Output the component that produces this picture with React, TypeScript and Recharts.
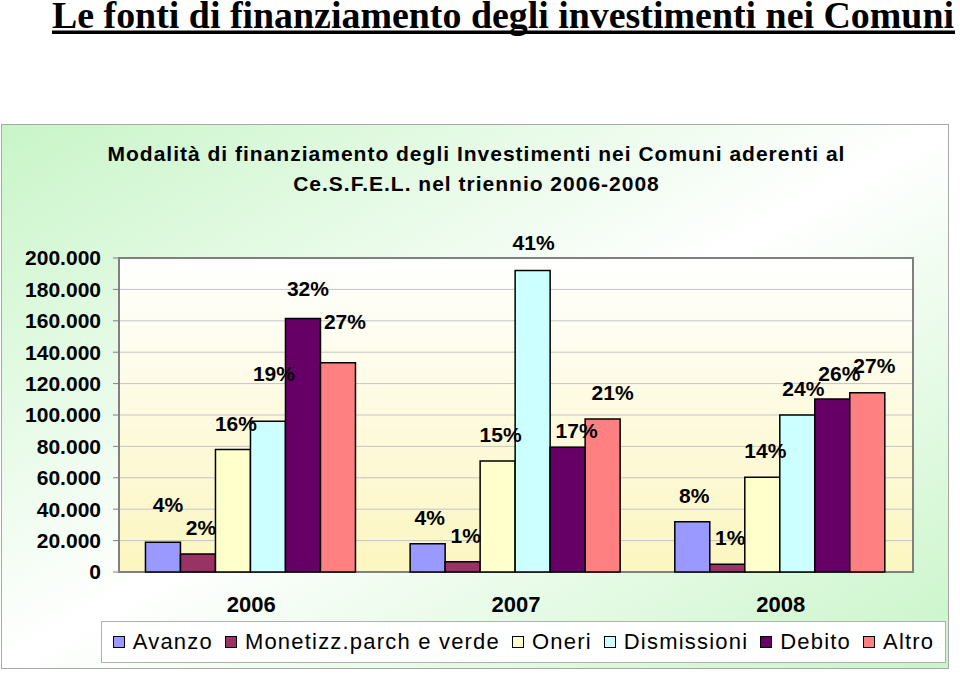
import React from "react";
import {
  BarChart,
  Bar,
  XAxis,
  YAxis,
  CartesianGrid,
  LabelList,
  ReferenceArea,
} from "recharts";

const years = ["2006", "2007", "2008"];
const avanzo = [19000, 18000, 32000];
const monetizz = [11500, 6600, 4900];
const oneri = [78000, 70700, 60300];
const dismissioni = [96000, 192000, 100000];
const debito = [161500, 79400, 110200];
const altro = [133300, 97500, 114200];

const avanzoPct = ["4%", "4%", "8%"];
const monetizzPct = ["2%", "1%", "1%"];
const oneriPct = ["16%", "15%", "14%"];
const dismissioniPct = ["19%", "41%", "24%"];
const debitoPct = ["32%", "17%", "26%"];
const altroPct = ["27%", "21%", "27%"];

const yTicks = [0, 20000, 40000, 60000, 80000, 100000, 120000, 140000, 160000, 180000, 200000];

const series = [
  { key: "avanzo", name: "Avanzo", color: "#9999FF", values: avanzo, pct: avanzoPct },
  { key: "monetizz", name: "Monetizz.parch e verde", color: "#993366", values: monetizz, pct: monetizzPct },
  { key: "oneri", name: "Oneri", color: "#FFFFCC", values: oneri, pct: oneriPct },
  { key: "dismissioni", name: "Dismissioni", color: "#CCFFFF", values: dismissioni, pct: dismissioniPct },
  { key: "debito", name: "Debito", color: "#660066", values: debito, pct: debitoPct },
  { key: "altro", name: "Altro", color: "#FF8080", values: altro, pct: altroPct },
];

// label nudges (dx, lift above bar top) where the original labels were moved by hand
const labelNudge: Record<string, [number, number][]> = {
  avanzo: [[5, 30], [2, 19], [2, 19]],
  dismissioni: [[6, 40], [1, 21], [6, 19]],
  debito: [[5, 22], [9, 9], [7, 18]],
  altro: [[7, 34], [10, 19], [7, 20]],
};

const data = years.map((year, i) => {
  const row: Record<string, any> = { year };
  series.forEach((s) => {
    row[s.key] = s.values[i];
  });
  return row;
});

const fmt = (v: number) => (v === 0 ? "0" : `${Math.round(v / 1000)}.000`);
const font = "'Liberation Sans', Arial, sans-serif";

const makeLabel = (key: string, pct: string[]) => (props: any) => {
  const vb = props.viewBox || {};
  const x = props.x ?? vb.x;
  const y = props.y ?? vb.y;
  const w = props.width ?? vb.width;
  const idx = props.index ?? 0;
  const n = labelNudge[key]?.[idx] ?? [3, 19];
  return (
    <text
      x={x + w / 2 + n[0]}
      y={y - n[1]}
      textAnchor="middle"
      fontFamily={font}
      fontWeight="bold"
      fontSize={21}
      fill="#000"
    >
      {pct[idx]}
    </text>
  );
};

export default function App() {
  return (
    <div style={{ position: "absolute", left: 0, top: 0, width: 960, height: 677, background: "#fff" }}>
      <svg width={960} height={40} style={{ position: "absolute", left: 0, top: 0 }}>
        <text
          x={52}
          y={28}
          fontFamily="'Liberation Serif', 'Times New Roman', serif"
          fontWeight="bold"
          fontSize={38}
          textLength={902}
          lengthAdjust="spacingAndGlyphs"
          fill="#000"
        >
          Le fonti di finanziamento degli investimenti nei Comuni
        </text>
        <rect x={52} y={30.5} width={903} height={3.5} fill="#000" />
      </svg>
      <div
        style={{
          position: "absolute",
          left: 1,
          top: 124,
          width: 948,
          height: 545,
          boxSizing: "border-box",
          border: "1px solid #a8a8a8",
          background: "linear-gradient(to bottom right, #c8f5c8 0%, #ffffff 50%, #c8f5c8 100%)",
        }}
      />
      <div
        style={{
          position: "absolute",
          left: 0,
          top: 139,
          width: 953,
          textAlign: "center",
          fontFamily: font,
          fontWeight: "bold",
          fontSize: 21,
          letterSpacing: 1,
          lineHeight: "30px",
          color: "#000",
        }}
      >
        Modalità di finanziamento degli Investimenti nei Comuni aderenti al
        <br />
        Ce.S.F.E.L. nel triennio 2006-2008
      </div>
      <div style={{ position: "absolute", left: 0, top: 0 }}>
        <BarChart
          width={960}
          height={677}
          data={data}
          margin={{ top: 258, right: 47, bottom: 65, left: 0 }}
          barCategoryGap="10%"
          barGap={0}
        >
          <defs>
            <linearGradient id="plotBg" x1="0" y1="0" x2="0" y2="1">
              <stop offset="0%" stopColor="#ffffff" />
              <stop offset="100%" stopColor="#fcf6c0" />
            </linearGradient>
          </defs>
          <CartesianGrid vertical={false} stroke="#c4c4c4" fill="url(#plotBg)" fillOpacity={1} />
          <XAxis
            dataKey="year"
            axisLine={false}
            tickLine={false}
            height={40}
            tickMargin={18}
            tick={{ fill: "#000", fontSize: 22, fontWeight: "bold", fontFamily: font }}
          />
          <YAxis
            width={119}
            domain={[0, 200000]}
            ticks={yTicks}
            interval={0}
            tickFormatter={fmt}
            axisLine={false}
            tickLine={{ stroke: "#808080" }}
            tickSize={6}
            tickMargin={12}
            tick={{ fill: "#000", fontSize: 21, fontWeight: "bold", fontFamily: font }}
          />
          <ReferenceArea y1={0} y2={200000} fill="none" stroke="#808080" strokeWidth={2} />
          {series.map((s) => (
            <Bar
              key={s.key}
              dataKey={s.key}
              name={s.name}
              fill={s.color}
              stroke="#000"
              strokeWidth={1.5}
              isAnimationActive={false}
            >
              <LabelList dataKey={s.key} content={makeLabel(s.key, s.pct)} />
            </Bar>
          ))}
        </BarChart>
      </div>
      <div
        style={{
          position: "absolute",
          left: 101,
          top: 621,
          width: 845,
          height: 42,
          boxSizing: "border-box",
          border: "1px solid #b0b0b0",
          background: "#fff",
          display: "flex",
          alignItems: "center",
          justifyContent: "center",
          fontFamily: font,
          fontSize: 22,
          letterSpacing: 1.2,
          color: "#000",
        }}
      >
        {series.map((s, i) => (
          <div
            key={s.key}
            style={{ display: "flex", alignItems: "center", marginRight: i === series.length - 1 ? 0 : 12 }}
          >
            <span
              style={{
                display: "inline-block",
                width: 10,
                height: 10,
                border: "1.5px solid #000",
                background: s.color,
                marginRight: 8,
              }}
            />
            <span>{s.name}</span>
          </div>
        ))}
      </div>
    </div>
  );
}
